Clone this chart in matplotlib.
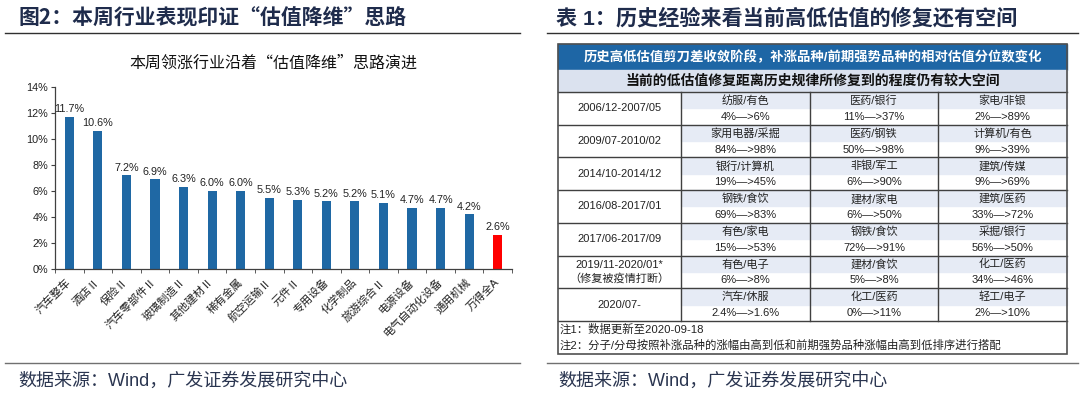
import matplotlib
matplotlib.use("Agg")
import matplotlib.pyplot as plt
from matplotlib.patches import Rectangle

plt.rcParams['font.family'] = ['Liberation Sans', 'Noto Sans CJK SC', 'DejaVu Sans']
cjk_first = ['Noto Sans CJK SC', 'Liberation Sans', 'DejaVu Sans']

# ---- data: bar chart ----
industries = ['汽车整车', '酒店Ⅱ', '保险Ⅱ', '汽车零部件Ⅱ', '玻璃制造Ⅱ', '其他建材Ⅱ', '稀有金属',
              '航空运输Ⅱ', '元件Ⅱ', '专用设备', '化学制品', '旅游综合Ⅱ', '电源设备',
              '电气自动化设备', '通用机械', '万得全A']
weekly_gain = [11.7, 10.6, 7.2, 6.9, 6.3, 6.0, 6.0, 5.5, 5.3, 5.2, 5.2, 5.1, 4.7, 4.7, 4.2, 2.6]

# ---- data: table ----
table_header = '历史高低估值剪刀差收敛阶段，补涨品种/前期强势品种的相对估值分位数变化'
table_sub = '当前的低估值修复距离历史规律所修复到的程度仍有较大空间'
periods = ['2006/12-2007/05', '2009/07-2010/02', '2014/10-2014/12', '2016/08-2017/01',
           '2017/06-2017/09', '2019/11-2020/01*\n（修复被疫情打断）', '2020/07-']
pairs = [['纺服/有色', '医药/银行', '家电/非银'],
         ['家用电器/采掘', '医药/钢铁', '计算机/有色'],
         ['银行/计算机', '非银/军工', '建筑/传媒'],
         ['钢铁/食饮', '建材/家电', '建筑/医药'],
         ['有色/家电', '钢铁/食饮', '采掘/银行'],
         ['有色/电子', '建材/食饮', '化工/医药'],
         ['汽车/休服', '化工/医药', '轻工/电子']]
changes = [['4%—>6%', '11%—>37%', '2%—>89%'],
           ['84%—>98%', '50%—>98%', '9%—>39%'],
           ['19%—>45%', '6%—>90%', '9%—>69%'],
           ['69%—>83%', '6%—>50%', '33%—>72%'],
           ['15%—>53%', '72%—>91%', '56%—>50%'],
           ['6%—>8%', '5%—>8%', '34%—>46%'],
           ['2.4%—>1.6%', '0%—>11%', '2%—>10%']]
notes = ['注1：数据更新至2020-09-18',
         '注2：分子/分母按照补涨品种的涨幅由高到低和前期强势品种涨幅由高到低排序进行搭配']

W, H = 1080, 399
navy = '#1f2c4c'
blue = '#1f68a4'
fig = plt.figure(figsize=(W / 100, H / 100), dpi=100)

# overlay axes in pixel coordinates for titles, rules and the table
ov = fig.add_axes([0, 0, 1, 1])
ov.set_xlim(0, W)
ov.set_ylim(H, 0)
ov.axis('off')

# titles and rules
ov.text(18, 18, '图2：本周行业表现印证“估值降维”思路', fontsize=15, fontweight='bold',
        color=navy, va='center', ha='left', family=cjk_first)
ov.text(556, 18, '表 1：历史经验来看当前高低估值的修复还有空间', fontsize=15.2, fontweight='bold',
        color=navy, va='center', ha='left')
ov.plot([5, 520], [33, 33], color='#303030', lw=1)
ov.plot([547, 1078], [33, 33], color='#303030', lw=1)
ov.plot([5, 520], [363, 363], color='#707070', lw=1)
ov.plot([547, 1078], [363, 363], color='#707070', lw=1)
ov.text(18, 381, '数据来源：Wind，广发证券发展研究中心', fontsize=13, color='#2a3550',
        va='center', ha='left')
ov.text(558, 381, '数据来源：Wind，广发证券发展研究中心', fontsize=13, color='#2a3550',
        va='center', ha='left')
ov.text(273, 63, '本周领涨行业沿着“估值降维”思路演进', fontsize=11.5, color='#111111',
        va='center', ha='center', family=cjk_first)

# ---- bar chart ----
x0, x1, y0, y1 = 55, 512, 269, 87
ax = fig.add_axes([x0 / W, (H - y0) / H, (x1 - x0) / W, (y0 - y1) / H])
pos = list(range(len(industries)))
colors = [blue] * (len(industries) - 1) + ['#ff0000']
ax.bar(pos, weekly_gain, width=0.32, color=colors, zorder=2)
for p, v in zip(pos, weekly_gain):
    ax.annotate(f'{v:.1f}%', (p, v), xytext=(0, 2), textcoords='offset points',
                ha='center', va='bottom', fontsize=7.8, color='#222222')
ax.set_xlim(-0.5, len(industries) - 0.5)
ax.set_ylim(0, 14)
ax.set_yticks(range(0, 15, 2))
ax.set_yticklabels([f'{t}%' for t in range(0, 15, 2)], fontsize=7.8, color='#222222')
ax.set_xticks(pos)
ax.set_xticklabels(industries, rotation=45, ha='right', va='center', rotation_mode='anchor',
                   fontsize=8, color='#222222')
ax.tick_params(axis='x', length=0, pad=8)
ax.set_xticks([p - 0.5 for p in pos] + [len(industries) - 0.5], minor=True)
ax.tick_params(axis='x', which='minor', length=3, color='#404040')
ax.tick_params(axis='y', length=3, color='#404040', pad=2)
for s in ['top', 'right']:
    ax.spines[s].set_visible(False)
for s in ['left', 'bottom']:
    ax.spines[s].set_color('#404040')
    ax.spines[s].set_linewidth(0.9)

# ---- table ----
tl, tr = 558, 1067
col_x = [558, 681, 810, 938, 1067]
top, head_b, sub_b = 44, 70, 92
row_h = 32.7
rows_b = [sub_b + row_h * (i + 1) for i in range(len(periods))]
notes_b = 354

ov.add_patch(Rectangle((tl, top), tr - tl, head_b - top, color='#1e66a5', zorder=1))
ov.text((tl + tr) / 2, (top + head_b) / 2, table_header, fontsize=9.6, fontweight='bold',
        color='white', ha='center', va='center', zorder=3)
ov.add_patch(Rectangle((tl, head_b), tr - tl, sub_b - head_b, color='#dbe2ef', zorder=1))
ov.text((tl + tr) / 2, (head_b + sub_b) / 2, table_sub, fontsize=10, fontweight='bold',
        color='#111111', ha='center', va='center', zorder=3)

for i, period in enumerate(periods):
    rt = sub_b + row_h * i
    rb = rt + row_h
    ov.text((col_x[0] + col_x[1]) / 2, (rt + rb) / 2, period, fontsize=8, color='#222222',
            ha='center', va='center', linespacing=1.3, zorder=3)
    for j in range(3):
        cl, cr = col_x[j + 1], col_x[j + 2]
        ov.add_patch(Rectangle((cl, rt), cr - cl, row_h / 2, color='#e6ebf5', zorder=1))
        ov.text((cl + cr) / 2, rt + row_h * 0.27, pairs[i][j], fontsize=8, color='#222222',
                ha='center', va='center', zorder=3)
        ov.text((cl + cr) / 2, rt + row_h * 0.76, changes[i][j], fontsize=8, color='#222222',
                ha='center', va='center', zorder=3)
    ov.plot([tl, tr], [rt, rt], color='#404040', lw=1, zorder=2)

ov.plot([tl, tr], [rows_b[-1], rows_b[-1]], color='#404040', lw=1, zorder=2)
for cx in col_x[1:-1]:
    ov.plot([cx, cx], [sub_b, rows_b[-1]], color='#404040', lw=1, zorder=2)
ov.text(560, rows_b[-1] + 8.5, notes[0], fontsize=8.2, color='#222222', ha='left',
        va='center', zorder=3)
ov.text(560, rows_b[-1] + 24, notes[1], fontsize=8.2, color='#222222', ha='left',
        va='center', zorder=3)
ov.add_patch(Rectangle((tl, top), tr - tl, notes_b - top, fill=False, ec='#505050', lw=1.2,
                       zorder=4))

fig.savefig('out.png', dpi=100)
